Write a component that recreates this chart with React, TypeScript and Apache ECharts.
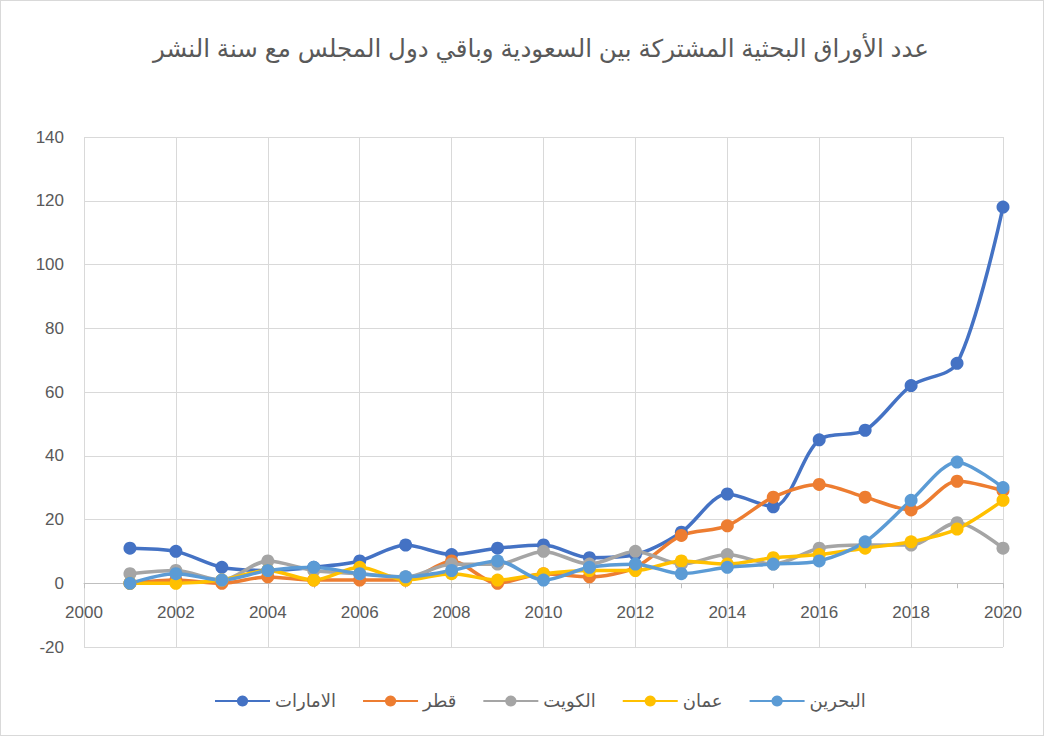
import React, { useEffect, useRef } from "react";
import * as echarts from "echarts";

const title = "عدد الأوراق البحثية المشتركة بين السعودية وباقي دول المجلس مع سنة النشر";
const years = [2001, 2002, 2003, 2004, 2005, 2006, 2007, 2008, 2009, 2010, 2011, 2012, 2013, 2014, 2015, 2016, 2017, 2018, 2019, 2020];
const seriesNames = ["الامارات", "قطر", "الكويت", "عمان", "البحرين"];
const colors = ["#4472C4", "#ED7D31", "#A5A5A5", "#FFC000", "#5B9BD5"];
const uae = [11, 10, 5, 4, 5, 7, 12, 9, 11, 12, 8, 9, 16, 28, 24, 45, 48, 62, 69, 118];
const qatar = [0, 1, 0, 2, 1, 1, 1, 7, 0, 3, 2, 5, 15, 18, 27, 31, 27, 23, 32, 29];
const kuwait = [3, 4, 1, 7, 4, 3, 2, 6, 6, 10, 6, 10, 6, 9, 6, 11, 12, 12, 19, 11];
const oman = [0, 0, 1, 4, 1, 5, 1, 3, 1, 3, 4, 4, 7, 6, 8, 9, 11, 13, 17, 26];
const bahrain = [0, 3, 1, 4, 5, 3, 2, 4, 7, 1, 5, 6, 3, 5, 6, 7, 13, 26, 38, 30];
const allValues = [uae, qatar, kuwait, oman, bahrain];

export default function App() {
  const ref = useRef<HTMLDivElement>(null);
  useEffect(() => {
    document.body.style.margin = "0";
    const chart = echarts.init(ref.current!, null, { renderer: "svg" });
    const font = "'Liberation Sans', 'DejaVu Sans', Arial, sans-serif";
    chart.setOption({
      animation: false,
      backgroundColor: "#ffffff",
      title: {
        text: title,
        left: 147,
        top: 30,
        textStyle: { fontFamily: font, fontSize: 24.5, fontWeight: "normal", color: "#595959" },
      },
      legend: {
        top: 686,
        left: 208,
        itemWidth: 55,
        itemHeight: 14,
        itemGap: 26,
        textStyle: { fontFamily: font, fontSize: 18, color: "#595959" },
        data: seriesNames,
      },
      grid: { left: 83, top: 136, width: 919, height: 510, containLabel: false },
      xAxis: {
        type: "value",
        min: 2000,
        max: 2020,
        interval: 2,
        axisLine: { onZero: true, lineStyle: { color: "#bfbfbf", width: 1 } },
        axisTick: { show: true, length: 5, inside: false, lineStyle: { color: "#bfbfbf" } },
        minorTick: { show: true, splitNumber: 2, length: 5, lineStyle: { color: "#bfbfbf" } },
        axisLabel: {
          fontFamily: font,
          fontSize: 17,
          color: "#595959",
          margin: -43,
          formatter: (v: number) => String(v),
        },
        splitLine: { show: true, lineStyle: { color: "#d9d9d9", width: 1 } },
      },
      yAxis: {
        type: "value",
        min: -20,
        max: 140,
        interval: 20,
        axisLine: { show: false },
        axisTick: { show: false },
        axisLabel: { fontFamily: font, fontSize: 17, color: "#595959", margin: 20 },
        splitLine: { show: true, lineStyle: { color: "#d9d9d9", width: 1 } },
      },
      series: seriesNames.map((name, i) => ({
        name,
        type: "line",
        smooth: 0.3,
        symbol: "circle",
        symbolSize: 13,
        color: colors[i],
        lineStyle: { width: 3.5, color: colors[i] },
        itemStyle: { color: colors[i] },
        data: years.map((y, j) => [y, allValues[i][j]]),
      })),
    });
    return () => chart.dispose();
  }, []);
  return (
    <div
      ref={ref}
      style={{ width: 1042, height: 734, border: "1px solid #d9d9d9", background: "#fff" }}
    />
  );
}
